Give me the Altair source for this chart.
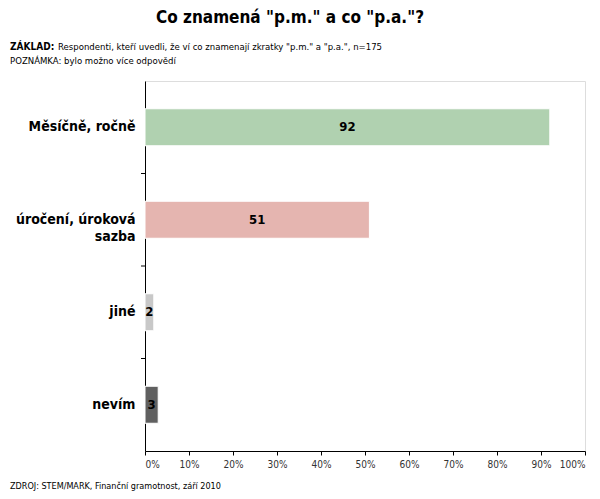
import altair as alt
import pandas as pd

categories = ["Měsíčně, ročně", "úročení, úroková sazba", "jiné", "nevím"]
values = [92, 51, 2, 3]
colors = ["#b0d1b0", "#e5b5b0", "#c8c8c8", "#606060"]
x_ticks = [0, 0.1, 0.2, 0.3, 0.4, 0.5, 0.6, 0.7, 0.8, 0.9, 1.0]

title_text = "Co znamená \"p.m.\" a co \"p.a.\"?"
base_bold = "ZÁKLAD:"
base_text = "Respondenti, kteří uvedli, že ví co znamenají zkratky \"p.m.\" a \"p.a.\", n=175"
note_text = "POZNÁMKA: bylo možno více odpovědí"
source_text = "ZDROJ: STEM/MARK, Finanční gramotnost, září 2010"

FONT = "DejaVu Sans Condensed, Liberation Sans Narrow, DejaVu Sans"

PLOT_H = 370
P_IN, P_OUT = 0.6, 0.3
STEP = PLOT_H / (len(categories) - P_IN + 2 * P_OUT)

df = pd.DataFrame({
    "cat": categories,
    "val": values,
    "frac": [v / 100 for v in values],
    "half": [v / 200 for v in values],
    "color": colors,
})

y_enc = alt.Y(
    "cat:N",
    sort=categories,
    title=None,
    scale=alt.Scale(paddingInner=P_IN, paddingOuter=P_OUT),
    axis=alt.Axis(
        ticks=False,
        domainColor="black",
        labelPadding=10,
        labelFontSize=14,
        labelFontWeight="bold",
        labelColor="black",
        labelFont=FONT,
        labelLimit=200,
        labelLineHeight=17,
        labelExpr="datum.label == 'úročení, úroková sazba' ? ['úročení, úroková', 'sazba'] : datum.label",
    ),
)

bars = alt.Chart(df).mark_bar(stroke="white", strokeWidth=1).encode(
    x=alt.X(
        "frac:Q",
        title=None,
        scale=alt.Scale(domain=[0, 1]),
        axis=alt.Axis(
            values=x_ticks,
            format=".0%",
            grid=False,
            tickSize=4,
            tickColor="black",
            domainColor="black",
            labelFontSize=10,
            labelColor="#333333",
            labelFont=FONT,
            labelPadding=4,
        ),
    ),
    y=y_enc,
    color=alt.Color("color:N", scale=None, legend=None),
)

ticks = alt.Chart(df.iloc[:3]).mark_rule(
    color="black", strokeWidth=1, yOffset=P_IN / 2 * STEP
).encode(
    x=alt.value(-4),
    x2=alt.value(0),
    y=alt.Y("cat:N", sort=categories, bandPosition=1),
)

labels = alt.Chart(df).mark_text(
    fontSize=13, fontWeight="bold", color="black", font=FONT
).encode(
    x=alt.X("half:Q"),
    y=alt.Y("cat:N", sort=categories),
    text=alt.Text("val:Q"),
)

def txt(s, x, y, size, weight="normal", align="left", baseline="middle"):
    return alt.Chart(pd.DataFrame({"t": [s]})).mark_text(
        fontSize=size, fontWeight=weight, align=align, baseline=baseline,
        color="black", font=FONT
    ).encode(text="t:N", x=alt.value(x), y=alt.value(y))

title = txt(title_text, 145, -63, 17, "bold", "center")
sub1a = txt(base_bold, -135, -34, 10, "bold")
sub1b = txt(base_text, -87, -34, 9.5)
sub2 = txt(note_text, -135, -20, 9.5)
src = txt(source_text, -135, 410, 9, baseline="bottom")

chart = alt.layer(bars, ticks, labels, title, sub1a, sub1b, sub2, src).properties(
    width=440,
    height=PLOT_H,
    autosize=alt.AutoSizeParams(type="none"),
    padding={"left": 137, "top": 73, "right": 7, "bottom": 40},
).configure_view(stroke=None).configure(background="white")

chart.save("out.html", embed_options={"renderer": "svg", "actions": False})
